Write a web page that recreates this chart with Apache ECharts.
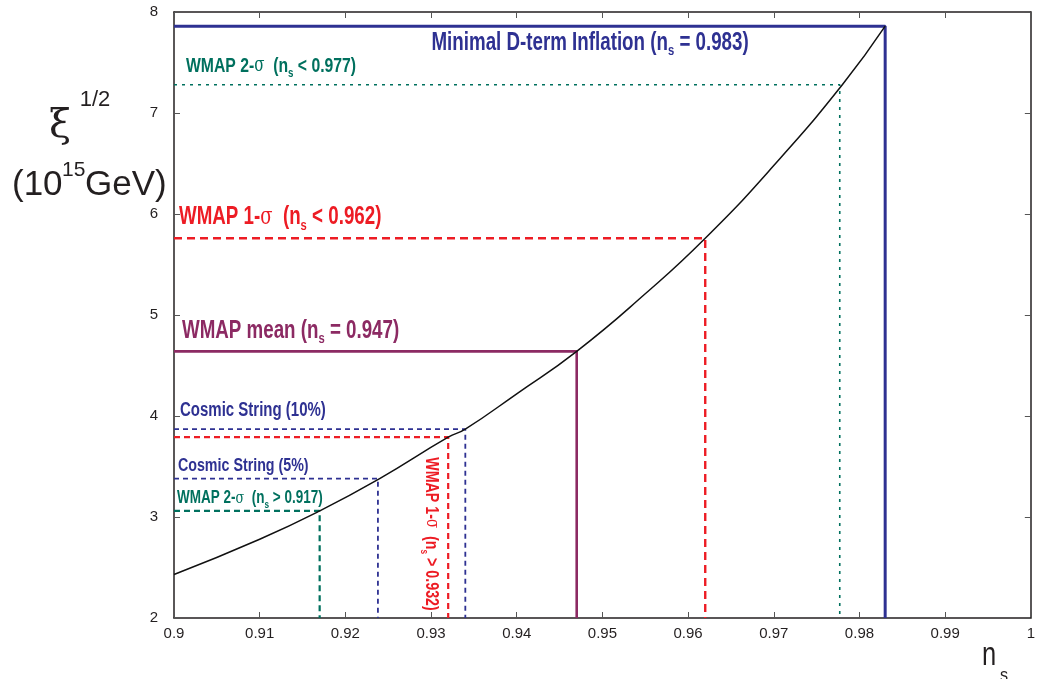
<!DOCTYPE html>
<html>
<head>
<meta charset="utf-8">
<script src="https://cdn.jsdelivr.net/npm/echarts@6/dist/echarts.min.js"></script>
<style>
html, body { margin: 0; padding: 0; background: #fff; }
#chart { width: 1038px; height: 679px; }
</style>
</head>
<body>
<div id="chart"></div>
<script>
// xi^(1/2) vs n_s curve
const curveNs = [0.9, 0.91, 0.917, 0.924, 0.932, 0.934, 0.94, 0.947, 0.955, 0.962, 0.97, 0.978, 0.983]
const curveXi = [2.43, 2.78, 3.06, 3.38, 3.79, 3.87, 4.22, 4.64, 5.21, 5.76, 6.48, 7.28, 7.86]

// bound lines: n_s value and where it meets the curve
const boundNames = ['dterm', 'wmap2Up', 'wmap1Up', 'mean', 'cs10', 'wmap1Lo', 'cs5', 'wmap2Lo']
const boundNs = [0.983, 0.9777, 0.962, 0.947, 0.934, 0.932, 0.9238, 0.917]
const boundXi = [7.86, 7.28, 5.76, 4.64, 3.87, 3.79, 3.38, 3.06]

const xTicks = [0.9, 0.91, 0.92, 0.93, 0.94, 0.95, 0.96, 0.97, 0.98, 0.99, 1]
const yTicks = [2, 3, 4, 5, 6, 7, 8]

const NAVY = '#2e3192'
const TEAL = '#00705e'
const RED = '#ed1c24'
const PLUM = '#8c2a63'
const INK = '#231f20'

const chart = echarts.init(document.getElementById('chart'))

const boundStyle = {
  dterm: { color: NAVY, width: 3, type: 'solid' },
  wmap2Up: { color: TEAL, width: 1.6, type: [3, 5] },
  wmap1Up: { color: RED, width: 2.4, type: [8, 5] },
  mean: { color: PLUM, width: 2.6, type: 'solid' },
  cs10: { color: NAVY, width: 1.8, type: [5, 4] },
  wmap1Lo: { color: RED, width: 2.2, type: [6, 4] },
  cs5: { color: NAVY, width: 1.8, type: [5, 4] },
  wmap2Lo: { color: TEAL, width: 2.2, type: [6, 4] }
}

const boundSeries = boundNames.map((name, i) => ({
  name: name,
  type: 'line',
  symbol: 'none',
  silent: true,
  z: 2,
  lineStyle: boundStyle[name],
  data: [[0.9, boundXi[i]], [boundNs[i], boundXi[i]], [boundNs[i], 2]]
}))

const axisBase = {
  type: 'value',
  axisLine: { show: true, onZero: false, lineStyle: { color: INK, width: 1.5 } },
  axisTick: { show: true, inside: true, length: 6, lineStyle: { color: '#555', width: 1 } },
  splitLine: { show: false }
}

chart.setOption({
  animation: false,
  backgroundColor: '#fff',
  grid: { left: 174, right: 2, top: 12, bottom: 61 },
  xAxis: [
    Object.assign({}, axisBase, {
      min: xTicks[0], max: xTicks[xTicks.length - 1], interval: 0.01,
      position: 'bottom',
      axisLabel: { color: INK, fontSize: 15, fontFamily: 'Liberation Sans', margin: 8,
        formatter: (v) => String(+v.toFixed(2)) }
    }),
    Object.assign({}, axisBase, {
      min: xTicks[0], max: xTicks[xTicks.length - 1], interval: 0.01,
      position: 'top',
      axisLabel: { show: false }
    })
  ],
  yAxis: [
    Object.assign({}, axisBase, {
      min: yTicks[0], max: yTicks[yTicks.length - 1], interval: 1,
      position: 'left',
      axisLabel: { color: INK, fontSize: 15, fontFamily: 'Liberation Sans', margin: 16 }
    }),
    Object.assign({}, axisBase, {
      min: yTicks[0], max: yTicks[yTicks.length - 1], interval: 1,
      position: 'right',
      axisLabel: { show: false }
    })
  ],
  series: boundSeries.concat([{
    name: 'curve',
    type: 'line',
    symbol: 'none',
    smooth: true,
    silent: true,
    z: 3,
    lineStyle: { color: '#111', width: 1.5 },
    data: curveNs.map((x, i) => [x, curveXi[i]])
  }])
})

// condensed bold labels with subscripts
const richFor = (size) => ({
  b: { fontSize: size, fontWeight: 'bold', fontFamily: 'Liberation Sans', lineHeight: size + 6, verticalAlign: 'middle' },
  g: { fontSize: Math.round(size * 0.95), fontFamily: 'DejaVu Serif', lineHeight: size + 6, verticalAlign: 'middle' },
  s: { fontSize: Math.round(size * 0.6), fontWeight: 'bold', fontFamily: 'Liberation Sans', lineHeight: Math.round(size * 0.6), verticalAlign: 'bottom' }
})

// anchors in data space: left edge / middle of the caps
const notes = [
  { at: [0.93005, 7.69], size: 25, color: NAVY, text: '{b|Minimal D-term Inflation (n}{s|s}{b| = 0.983)}' },
  { at: [0.90139, 7.465], size: 21, color: TEAL, text: '{b|WMAP 2-}{g|σ}{b|  (n}{s|s}{b| < 0.977)}' },
  { at: [0.90058, 5.965], size: 25, color: RED, text: '{b|WMAP 1-}{g|σ}{b|  (n}{s|s}{b| < 0.962)}' },
  { at: [0.90093, 4.84], size: 25, color: PLUM, text: '{b|WMAP mean (n}{s|s}{b| = 0.947)}' },
  { at: [0.90070, 4.055], size: 20, color: NAVY, text: '{b|Cosmic String (10%)}' },
  { at: [0.90046, 3.51], size: 19, color: NAVY, text: '{b|Cosmic String (5%)}' },
  { at: [0.90035, 3.185], size: 18, color: TEAL, text: '{b|WMAP 2-}{g|σ}{b|  (n}{s|s}{b| > 0.917)}' }
]

const graphics = notes.map(n => {
  const p = chart.convertToPixel({ xAxisIndex: 0, yAxisIndex: 0 }, n.at)
  return {
    type: 'text', x: p[0], y: p[1], scaleX: 0.75, z: 10, silent: true,
    style: { text: n.text, rich: richFor(n.size), fill: n.color, align: 'left', verticalAlign: 'middle' }
  }
})

const vp = chart.convertToPixel({ xAxisIndex: 0, yAxisIndex: 0 }, [0.93005, 2.832])
graphics.push({
  type: 'text', x: vp[0], y: vp[1], scaleX: 0.75, rotation: -Math.PI / 2, z: 10, silent: true,
  style: { text: '{b|WMAP 1-}{g|σ}{b|  (n}{s|s}{b| > 0.932)}', rich: richFor(19), fill: RED, align: 'center', verticalAlign: 'middle' }
})

// axis titles
const title = (x, y, text, font, align, sx) => ({
  type: 'text', x: x, y: y, scaleX: sx || 1, silent: true,
  style: { text: text, font: font, fill: INK, align: align, verticalAlign: 'middle' }
})
graphics.push(
  title(60, 127, 'ξ', '40px "DejaVu Serif"', 'center'),
  title(95, 100, '1/2', '22px "Liberation Sans"', 'center'),
  title(12, 185, '(10', '35px "Liberation Sans"', 'left'),
  title(62, 170, '15', '21px "Liberation Sans"', 'left'),
  title(85, 185, 'GeV)', '35px "Liberation Sans"', 'left'),
  title(982, 656, 'n', '34px "Liberation Sans"', 'left', 0.75),
  title(1000, 676, 's', '19px "Liberation Sans"', 'left', 0.85)
)

chart.setOption({ graphic: graphics })
</script>
</body>
</html>
